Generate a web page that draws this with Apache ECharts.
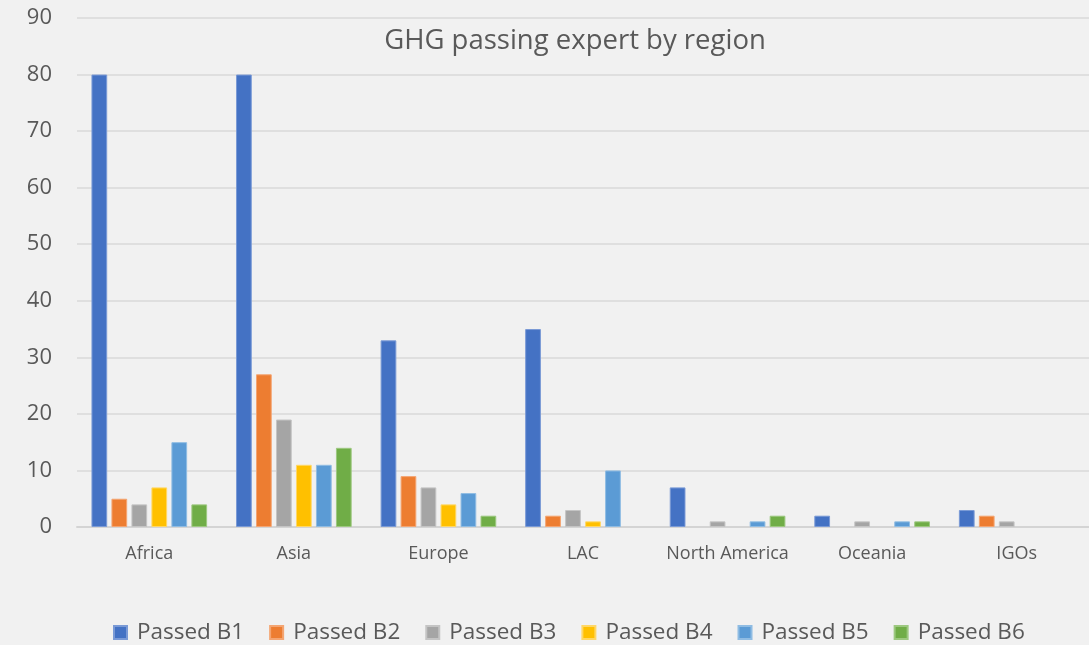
<!DOCTYPE html>
<html><head><meta charset="utf-8">
<script src="https://cdn.jsdelivr.net/npm/echarts@6/dist/echarts.min.js"></script>
<style>html,body{margin:0;padding:0;background:#f1f1f1;}#c{width:1089px;height:645px;}</style>
</head><body><div id="c"></div>
<script>
const categories = ['Africa','Asia','Europe','LAC','North America','Oceania','IGOs'];
const seriesNames = ['Passed B1','Passed B2','Passed B3','Passed B4','Passed B5','Passed B6'];
const passedB1 = [80, 80, 33, 35, 7, 2, 3];
const passedB2 = [5, 27, 9, 2, 0, 0, 2];
const passedB3 = [4, 19, 7, 3, 1, 1, 1];
const passedB4 = [7, 11, 4, 1, 0, 0, 0];
const passedB5 = [15, 11, 6, 10, 1, 1, 0];
const passedB6 = [4, 14, 2, 0, 2, 1, 0];
const allData = [passedB1, passedB2, passedB3, passedB4, passedB5, passedB6];
const colors = ['#4472C4','#ED7D31','#A5A5A5','#FFC000','#5B9BD5','#70AD47'];
const borders = ['#7a9ad6','#f4a572','#c4c4c4','#ffd766','#8fbce3','#9dc880'];

const chart = echarts.init(document.getElementById('c'));
chart.setOption({
  backgroundColor: '#f1f1f1',
  animation: false,
  title: {
    text: 'GHG passing expert by region',
    left: 570, top: 22, textAlign: 'center',
    textStyle: {fontFamily: 'Open Sans', fontSize: 27.5, fontWeight: 'normal', color: '#595959'}
  },
  legend: {
    data: seriesNames,
    bottom: -4, left: 108,
    icon: 'rect', itemWidth: 13, itemHeight: 13, itemGap: 25,
    textStyle: {fontFamily: 'Open Sans', fontSize: 22.5, color: '#595959', padding: [0, 0, 0, 5]}
  },
  grid: {left: 77, top: 18, width: 1015, height: 509, containLabel: false},
  xAxis: {
    type: 'category', data: categories,
    axisLine: {lineStyle: {color: '#d4d4d4', width: 2}},
    axisTick: {show: false},
    axisLabel: {interval: 0, fontFamily: 'Open Sans', fontSize: 18, color: '#595959', margin: 18}
  },
  yAxis: {
    type: 'value', min: 0, max: 90, interval: 10,
    axisLine: {show: false}, axisTick: {show: false},
    axisLabel: {fontFamily: 'Open Sans', fontSize: 22, color: '#595959', margin: 25},
    splitLine: {lineStyle: {color: '#d9d9d9', width: 1.5}}
  },
  series: allData.map((d, i) => ({
    name: seriesNames[i], type: 'bar',
    data: d.map(v => v === 0 ? {value: 0, itemStyle: {borderWidth: 0}} : v),
    barGap: '27%', barCategoryGap: '20%',
    itemStyle: {color: colors[i], borderColor: borders[i], borderWidth: 1}
  }))
});
</script></body></html>
